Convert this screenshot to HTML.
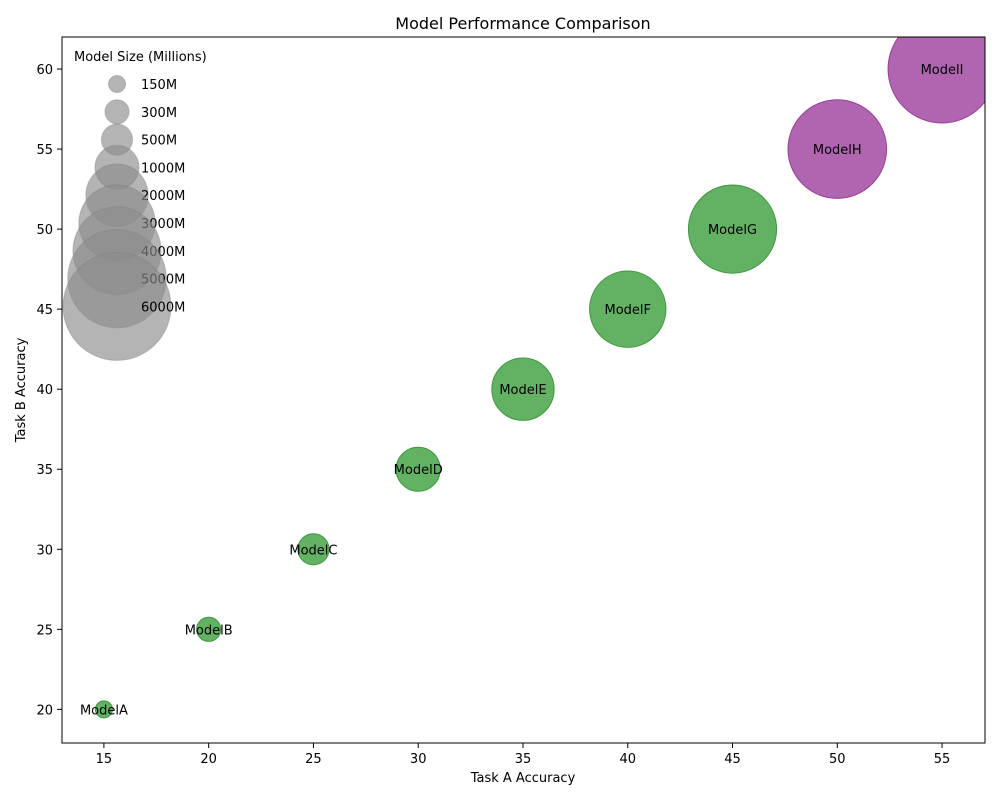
<!DOCTYPE html>
<html><head><meta charset="utf-8"><style>
body{margin:0;background:#fff}
svg text{font-family:"DejaVu Sans","Liberation Sans",sans-serif}
</style></head><body>
<svg id="chart" width="1000" height="800">
<defs><clipPath id="plotclip"><rect x="62" y="37" width="923" height="706"/></clipPath></defs>
<rect width="1000" height="800" fill="#fff"/>
<text x="523" y="29" font-size="16" text-anchor="middle">Model Performance Comparison</text>
<g id="bubbles" clip-path="url(#plotclip)"></g>
<g id="legend"></g>
<rect x="62" y="37" width="923" height="706" fill="none" stroke="#000" stroke-width="1"/>
<g id="axes"></g>
<text x="523" y="782" font-size="13" text-anchor="middle">Task A Accuracy</text>
<text x="25" y="390" font-size="13" text-anchor="middle" transform="rotate(-90 25 390)">Task B Accuracy</text>
</svg>
<script>
const models=["ModelA","ModelB","ModelC","ModelD","ModelE","ModelF","ModelG","ModelH","ModelI"];
const taskA=[15,20,25,30,35,40,45,50,55];
const taskB=[20,25,30,35,40,45,50,55,60];
const sizes=[150,300,500,1000,2000,3000,4000,5000,6000];
const groups=["g","g","g","g","g","g","g","p","p"];
const legendSizes=[150,300,500,1000,2000,3000,4000,5000,6000];
const xTicks=[15,20,25,30,35,40,45,50,55];
const yTicks=[20,25,30,35,40,45,50,55,60];
const NS="http://www.w3.org/2000/svg";
const X0=62,X1=985,Y0=743,Y1=37,xmin=13,xmax=57.05,ymin=17.9,ymax=62;
function xs(v){return X0+(v-xmin)/(xmax-xmin)*(X1-X0);}
function ys(v){return Y0-(v-ymin)/(ymax-ymin)*(Y0-Y1);}
function rs(s){return 0.697*Math.sqrt(s);}
function mk(t,a,p){const e=document.createElementNS(NS,t);for(const k in a)e.setAttribute(k,a[k]);p.appendChild(e);return e;}
const bg=document.getElementById('bubbles');
models.forEach((m,i)=>{
  const fill=groups[i]==="g"?"#63b163":"#b065b0";
  const st=groups[i]==="g"?"#3f9a3f":"#9a3f9a";
  const c=mk('circle',{cx:xs(taskA[i]),cy:ys(taskB[i]),r:rs(sizes[i]),fill:fill,stroke:st,'stroke-width':1},bg);
  
  
  const t=mk('text',{x:xs(taskA[i]),y:ys(taskB[i])+5,'font-size':13,'text-anchor':'middle'},bg);
  t.textContent=m;
  
  
});
const lg=document.getElementById('legend');
const lt=mk('text',{x:74,y:61,'font-size':13},lg);
lt.textContent="Model Size (Millions)";


legendSizes.forEach((s,i)=>{
  const cy=84+i*27.8;
  const c=mk('circle',{cx:117,cy:cy,r:rs(s),fill:'#8c8c8c','fill-opacity':0.65,stroke:'#808080','stroke-opacity':0.4},lg);
  
  
  const t=mk('text',{x:141,y:cy+5,'font-size':13},lg);
  t.textContent=s+"M";
  
  
});
const ax=document.getElementById('axes');
xTicks.forEach(v=>{
  mk('line',{x1:xs(v),x2:xs(v),y1:743,y2:748,stroke:'#000'},ax);
  const t=mk('text',{x:xs(v),y:763,'font-size':13,'text-anchor':'middle'},ax);
  t.textContent=v;
  
  
});
yTicks.forEach(v=>{
  mk('line',{x1:57,x2:62,y1:ys(v),y2:ys(v),stroke:'#000'},ax);
  const t=mk('text',{x:53,y:ys(v)+5,'font-size':13,'text-anchor':'end'},ax);
  t.textContent=v;
  
  
});
</script>
</body></html>
